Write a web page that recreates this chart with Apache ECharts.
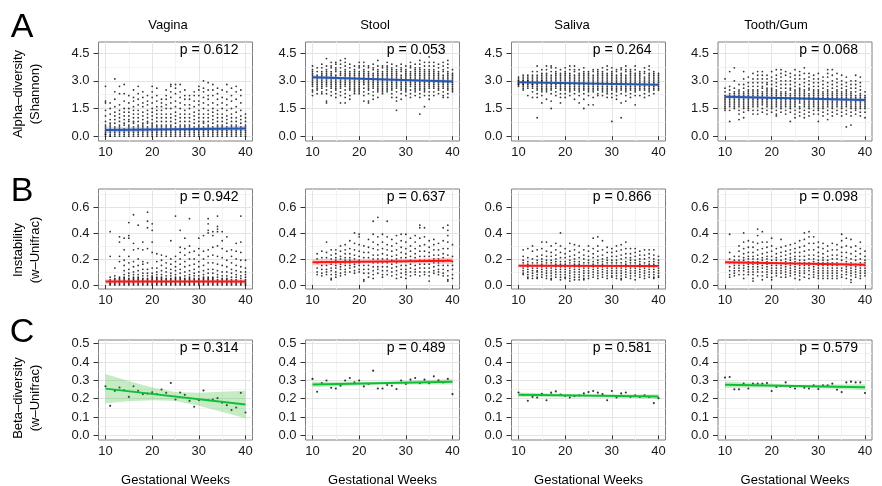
<!DOCTYPE html>
<html><head><meta charset="utf-8">
<script src="https://cdn.jsdelivr.net/npm/echarts@6/dist/echarts.min.js"></script>
<style>html,body{margin:0;padding:0;background:#fff}#c{width:882px;height:486px}</style>
</head><body><div id="c"></div>
<script>
// ---------------- DATA ----------------
const sites = ['Vagina', 'Stool', 'Saliva', 'Tooth/Gum'];
const rowLetters = ['A', 'B', 'C'];
const rowTitles = [['Alpha\u2013diversity', '(Shannon)'], ['Instability', '(w\u2013Unifrac)'], ['Beta\u2013diversity', '(w\u2013Unifrac)']];
const xLabel = 'Gestational Weeks';
const xTicks = [10, 20, 30, 40];
const xMinorTicks = [15, 25, 35];
const yTicksA = [0, 1.5, 3, 4.5];
const yMinorA = [0.75, 2.25, 3.75];
const yTicksB = [0, 0.2, 0.4, 0.6];
const yMinorB = [0.1, 0.3, 0.5, 0.7];
const yTicksC = [0, 0.1, 0.2, 0.3, 0.4, 0.5];
const yMinorC = [0.05, 0.15, 0.25, 0.35, 0.45];
const weeksA = [10,11,12,13,14,15,16,17,18,19,20,21,22,23,24,25,26,27,28,29,30,31,32,33,34,35,36,37,38,39,40];
const weeksB = [11,12,13,14,15,16,17,18,19,20,21,22,23,24,25,26,27,28,29,30,31,32,33,34,35,36,37,38,39,40];
const pValues = [['0.612','0.053','0.264','0.068'], ['0.942','0.637','0.866','0.098'], ['0.314','0.489','0.581','0.579']];

// Row A: Shannon diversity, values in tenths, one string per week (10..40)
const shannonVagina = [
"27 19 18 14 11 8 6 5 4 3 2 1 1 0","18 15 12 9 7 6 5 4 3 2 1 0 0","31 24 20 16 13 11 9 7 5 4 3 2 1 0",
"27 23 17 14 12 10 8 6 5 4 3 2 1 0","28 23 19 15 13 11 9 7 6 4 3 2 1 0","22 18 15 13 11 9 8 6 5 4 3 2 1 0",
"25 21 19 16 14 12 10 8 7 5 4 3 2 1 0","27 23 20 17 14 12 10 8 6 5 4 3 2 1 0","24 21 18 16 13 11 9 7 6 5 4 3 2 1 0",
"22 19 17 14 12 10 8 7 5 4 3 2 1 0","27 24 21 18 15 13 11 9 7 6 5 4 3 2 1 0","26 22 19 16 14 12 10 8 6 5 4 3 2 1 0",
"20 18 16 14 12 10 8 6 5 4 3 2 1 0","25 22 20 17 15 12 10 8 6 5 4 3 2 1 0","28 27 24 21 18 15 12 10 8 6 5 4 3 2 1 0",
"28 26 23 19 16 13 11 9 7 5 4 3 2 1 0","28 24 21 18 15 12 10 8 6 5 4 3 2 1 0","25 22 20 17 14 12 10 8 6 5 4 3 2 1 0",
"22 20 17 15 12 10 8 6 5 4 3 2 1 0","24 22 19 16 13 11 9 7 5 4 3 2 1 0","27 25 22 19 17 14 12 10 8 6 5 4 3 2 1 0",
"30 26 24 21 18 15 12 10 8 7 5 4 3 2 1 0","29 25 22 20 17 14 12 10 8 6 5 4 3 2 1 0","28 25 22 18 15 13 11 9 7 5 4 3 2 1 0",
"26 23 20 17 14 12 10 8 6 5 4 3 2 1 0","25 21 18 15 12 10 8 6 5 4 3 2 1 0","28 24 20 17 14 11 9 7 5 4 3 2 1 0",
"26 22 19 15 12 10 8 6 5 4 3 2 1 0","27 24 20 16 13 10 8 6 5 4 3 2 1 0","25 22 18 14 11 9 7 5 4 3 2 1 0",
"12 10 8 6 5 4 3 2 1 0"];
const shannonStool = [
"38 36 35 34 33 32 31 30 29 28 27 25 24 22","37 35 33 32 31 30 29 28 27 26 25 23","39 37 35 34 33 32 31 30 29 28 27 26 24 23",
"42 38 36 35 34 33 32 31 30 29 28 27 25 23 19 18","40 38 37 35 34 33 32 31 30 29 28 27 26 24 22","40 39 37 36 35 33 32 31 30 29 28 27 26 25 23 21",
"41 39 37 35 34 33 31 30 29 28 27 26 24 22 18","42 40 38 36 35 34 33 32 31 30 29 28 27 25 23 21 18","39 37 35 34 33 32 31 30 29 28 27 26 25 22 20",
"38 36 35 34 33 32 31 30 29 28 27 26 25 24 23","40 38 37 35 34 33 32 31 30 29 28 27 26 25 24 23","40 38 36 35 34 33 32 31 30 29 28 26 24 22 19",
"38 37 35 34 33 32 31 30 29 28 27 26 25 23 19 18","39 37 36 34 33 32 31 30 29 28 27 26 24 22 20","41 38 36 35 34 33 32 31 30 29 28 27 26 25 24 21",
"38 37 35 34 33 32 31 30 29 28 27 26 25 24 23","40 38 37 36 35 34 33 32 31 30 29 28 27 26 25 24","39 37 36 35 34 33 32 31 30 29 28 27 26 25 23 21",
"38 36 35 34 33 32 31 30 29 28 27 26 24 21 19 14","39 37 36 35 33 32 31 30 29 28 27 26 25 23 20","38 36 35 34 33 32 31 30 29 28 27 26 25 24 22",
"40 38 37 35 34 33 32 31 30 29 28 27 25 23 21","39 37 36 35 34 33 32 31 30 29 28 27 26 25 24 22","41 39 37 36 35 34 33 32 31 30 29 28 27 26 25 23 21 12",
"40 38 36 35 34 33 32 31 30 29 28 27 26 25 24 22 16","43 40 38 36 35 34 33 32 31 30 29 28 27 26 24 22 20","40 38 36 35 34 33 32 31 30 29 28 27 26 24 22",
"39 37 35 34 33 32 31 30 29 28 27 26 25 23","40 38 36 35 33 32 31 30 29 28 27 26 24 22 21","41 39 37 35 34 33 32 31 30 29 28 27 26 25 23 21",
"36 34 33 32 31 30 29 28 27 26 25 24"];
const shannonSaliva = [
"32 31 30 30 29 29 28 28 27","33 32 31 30 30 29 29 28 28 27 26 25","33 32 31 30 30 29 29 28 27 26 22",
"35 33 32 31 30 29 29 28 28 27 26 24 21","38 35 33 32 31 30 29 29 28 27 26 25 23 21 10","36 34 33 32 31 30 30 29 28 27 26 25 24 22 18",
"38 36 34 33 32 31 30 29 28 27 26 25 24 20","38 37 35 33 32 31 30 29 28 27 26 25 23 19 15","37 35 34 33 32 31 30 29 28 27 26 24 22",
"36 34 33 32 31 30 29 28 27 26 25 23 21 18","37 35 34 33 32 31 30 29 28 27 26 25 23 21","38 36 34 33 32 31 30 29 28 27 26 25 24 22",
"38 36 35 33 32 31 30 29 28 27 26 25 23 20","36 34 33 32 31 30 29 28 27 26 25 24 22 18","37 35 34 33 32 31 30 29 28 27 26 25 23 20 15",
"35 34 33 32 31 30 29 28 27 26 25 24 22 17","36 35 33 32 31 30 29 28 27 26 25 24 21 17","36 35 34 33 32 31 30 29 28 27 26 25 23 22",
"37 35 34 33 32 31 30 29 28 27 26 25 24 22","38 36 34 33 32 31 30 29 28 27 26 25 24 23 21","37 35 34 33 32 31 30 29 28 27 26 25 23 21 8",
"36 35 33 32 31 30 29 28 27 26 25 24 22 20","37 36 34 33 32 31 30 29 28 27 26 25 23 18 10","38 36 35 33 32 31 30 29 28 27 26 25 24 22 19",
"36 35 34 33 32 31 30 29 28 27 26 25 23 21","38 36 34 33 32 31 30 29 28 27 26 25 24 22 17","35 34 33 32 31 30 29 28 27 26 25 22",
"37 35 34 32 31 30 29 28 27 26 25 23 21","38 36 34 33 32 31 30 29 28 27 26 25 24 22","35 34 33 32 31 30 29 28 27 26 25 23",
"34 33 32 31 30 29 28 27 26 25"];
const shannonTooth = [
"31 26 24 22 21 20 19 18 17 16 15 14","35 27 25 23 22 21 20 19 18 17 16 14 8","37 30 26 24 23 22 21 20 19 18 17 16 15",
"28 25 24 23 22 21 20 19 18 17 16 14 12 9","35 31 28 26 24 23 22 21 20 19 18 17 16 15 13 10","32 29 27 25 24 23 22 21 20 19 18 17 16 15 14",
"34 31 29 27 25 24 23 22 21 20 19 18 17 16 14 12","35 33 31 29 27 25 24 23 22 21 20 19 18 17 16 14 12","35 33 31 29 27 26 24 23 22 21 20 19 18 17 15 13",
"33 31 29 28 26 25 24 23 22 21 20 19 18 17 16 14 12","35 32 30 28 26 25 24 23 22 21 20 19 18 17 16 15 13","36 33 31 29 27 25 24 23 22 21 20 19 18 17 16 14 12 11",
"36 34 32 30 28 26 24 23 22 21 20 19 18 17 16 15 13","35 33 30 28 26 24 23 22 21 20 19 18 17 16 14 12","34 32 30 28 26 25 23 22 21 20 19 18 17 16 15 13 8",
"36 33 31 29 27 25 24 23 22 21 20 19 18 17 16 14 12 10","35 33 31 28 26 25 24 23 22 21 20 19 18 16 15 13 11","37 34 31 29 27 25 24 23 22 21 20 19 18 17 16 14 12 10",
"34 32 30 28 26 25 23 22 21 20 19 18 17 16 15 13 11","33 31 29 27 25 24 23 22 21 20 19 18 17 16 14 12","34 31 29 27 25 24 23 22 21 20 19 18 17 16 15 14 12 8",
"32 30 28 26 24 23 22 21 20 19 18 17 16 15 13 11","36 34 32 29 27 25 24 23 22 21 20 19 18 17 16 14 12 9","36 33 30 28 26 24 23 22 21 20 19 18 17 16 15 13 11",
"34 31 29 27 25 24 23 22 21 20 19 18 17 16 14 12","33 30 28 26 24 23 22 21 20 19 18 17 16 15 13 11","32 29 27 25 24 23 22 21 20 19 18 17 16 14 12 5",
"30 28 26 24 23 22 21 20 19 18 17 16 15 13 11 6","33 30 28 26 24 22 21 20 19 18 17 16 15 14 12","32 29 27 25 23 22 21 20 19 18 17 16 15 13 11",
"24 22 21 20 19 18 17 16 15 13 10"];

// Row B: instability (w-Unifrac), values in hundredths, one string per week (11..40)
const instabVagina = [
"41 22 6 4 3 2 1 1 0","13 7 5 4 3 2 1 0","37 33 22 18 6 5 4 3 2 1 0","36 27 19 15 11 8 6 5 4 3 2 1 0",
"48 38 36 22 17 12 9 7 5 4 3 2 1 0","54 32 27 18 14 10 8 6 5 4 3 2 1 0","46 28 20 15 11 8 6 5 4 3 2 1 0",
"33 27 18 16 12 9 7 5 4 3 2 1 0","56 49 44 28 17 12 9 7 5 4 3 2 1 0","47 42 33 25 13 9 7 6 5 4 3 2 1 0",
"24 18 13 10 8 6 5 4 3 2 1 0","23 19 15 11 8 6 5 4 3 2 1 0","22 17 13 10 7 5 4 3 2 1 0","34 20 16 12 9 7 5 4 3 2 1 0",
"53 22 18 14 11 8 6 5 4 3 2 1 0","42 29 25 20 16 12 9 6 5 4 3 2 1 0","36 28 23 18 14 10 7 5 4 3 2 1 0",
"51 30 25 20 15 11 8 6 5 4 3 2 1 0","26 20 16 12 9 7 5 4 3 2 1 0","36 28 23 18 14 10 7 5 4 3 2 1 0",
"38 26 20 15 11 8 6 5 4 3 2 1 0","51 47 42 40 27 22 17 12 9 6 5 4 3 2 1 0","41 38 29 23 17 12 9 6 5 4 3 2 1 0",
"53 45 43 41 30 22 16 11 8 6 4 3 2 1 0","41 34 28 21 15 10 7 5 4 3 2 1 0","37 26 19 14 10 7 5 4 3 2 1 0",
"27 22 17 12 9 6 4 3 2 1 0","32 26 20 15 11 8 6 4 3 2 1 0","53 33 25 19 14 10 7 5 3 2 1 0","19 13 10 8 6 4 3 2 1 0"];
const instabStool = [
"24 20 17 13 10 8","26 21 18 15 12 9 7","33 25 21 18 15 12 10 8","27 23 20 18 16 13 11 8 5 4",
"27 24 21 19 17 15 13 10 8 6","30 26 22 20 18 16 14 12 9 7","31 27 24 21 19 17 15 12 10 8","34 28 24 21 19 17 15 13 10",
"40 32 27 23 20 18 16 14 11 9","39 37 31 26 22 19 17 15 12 10","30 25 21 18 15 12 9 4 3","35 29 25 21 18 15 12 9 6",
"49 39 33 28 23 20 17 14 11 8 5","52 37 31 27 23 20 17 14 12 9","39 33 28 24 20 17 14 11 8 6","49 37 31 27 23 20 17 14 11 8",
"35 30 26 22 19 16 13 10 7","38 32 27 23 20 17 14 11 8 5","39 34 29 25 21 18 15 12 9 6","39 33 28 24 21 18 15 12 10 8 5",
"36 30 26 22 19 16 13 10 7","38 33 28 24 21 18 15 12 10 8","46 44 36 30 26 22 19 16 13 10 7","44 37 31 26 22 19 16 13 10 8",
"34 29 25 22 19 16 13 10 7 3","35 31 27 23 20 17 14 11 9","32 27 23 20 17 15 12 10 8","44 34 28 24 21 18 15 12 9 7",
"46 42 38 33 28 23 19 15 11 7 4 3","31 22 18 15 12 8 5"];
const instabSaliva = [
"27 22 19 17 15 13 11 9 8","28 21 18 16 14 12 10 8 6 5","30 26 20 17 15 13 11 9 7 5","27 22 19 17 15 13 11 10 8 6 5",
"33 28 23 20 18 16 14 12 10 8 6","33 26 22 19 17 15 13 11 9 7 5","30 25 22 19 17 15 13 11 9 7 5 4","32 27 23 20 18 16 14 12 10 8 6",
"40 30 25 21 18 16 14 12 10 8 6 4","28 24 21 18 16 14 12 10 8 6 5","32 26 22 19 17 15 13 11 9 7 5 3","31 27 23 20 18 16 14 12 10 8 6 4",
"30 25 21 18 16 14 12 10 8 6 4","27 23 20 17 15 13 11 9 7 5 4","30 26 22 19 17 15 13 11 9 7 5","36 28 24 21 18 16 14 12 10 8 6",
"37 30 26 22 19 17 15 13 11 9 7 5","34 27 23 20 18 16 14 12 10 8 6","29 25 21 19 17 15 13 11 9 7 5","28 25 22 19 17 15 13 11 9 7 6",
"30 26 22 19 17 15 13 11 9 7 5","31 27 23 20 17 15 13 11 9 7 5 4","33 28 24 21 18 16 14 12 10 8 6","28 24 21 19 17 15 13 11 9 7 5",
"28 25 22 19 17 15 13 11 9 7 4","26 23 20 18 16 14 12 10 8 6","27 23 20 17 15 13 11 9 7 5","27 24 21 18 16 14 12 10 8 6",
"27 23 20 18 16 14 12 10 8 6 5","22 19 17 15 13 11 9 7 6"];
const instabTooth = [
"39 25 20 17 14 11 8 6","22 19 17 15 13 11 9 7","30 26 22 19 17 15 13 11 8","40 33 28 24 21 19 17 15 13 11 8 5",
"34 29 25 22 20 18 16 14 12 10 8","33 29 25 22 20 18 16 14 12 10 8 5 3","43 38 32 27 23 20 18 16 14 12 10 7","41 33 28 24 21 19 17 15 13 10 7 4",
"33 29 25 22 20 18 16 14 12 10 8 6","36 30 26 22 19 17 15 13 11 9 6 4","28 24 21 19 17 15 13 11 9 7","35 29 25 22 19 17 15 13 11 9 6",
"30 26 23 20 18 16 14 12 10 8 6","31 27 24 21 19 17 15 13 11 9 7","32 28 25 22 20 18 16 14 12 10 8 5","34 29 25 22 19 17 15 13 11 9 7 4",
"40 35 30 26 22 19 17 15 13 11 9 6","41 37 32 27 23 20 17 15 13 11 8 5","37 32 27 23 20 18 16 14 12 10 8 6","33 29 25 22 19 17 15 13 11 9 7 5",
"32 28 24 21 19 17 15 13 11 9 7 5","30 26 22 19 17 15 13 11 9 7 5","32 27 23 20 17 15 13 11 9 7 5","31 27 23 20 17 15 13 11 9 7 5",
"39 34 29 25 22 19 16 13 11 8 6","36 30 25 21 18 16 14 12 10 8 5","35 29 24 20 17 15 13 11 9 7 4 2","30 26 22 19 16 14 12 10 8 6",
"33 28 24 20 17 15 13 11 9 7 5","26 22 19 17 15 13 11 9 7"];

// Row C: beta-diversity, one value per week (10..40)
const betaVagina = [0.268,0.161,0.243,0.261,0.246,0.210,0.268,0.243,0.225,0.228,0.235,0.225,0.250,0.232,0.286,0.196,0.234,0.221,0.188,0.156,0.192,0.245,0.192,0.196,0.203,0.178,0.165,0.138,0.152,0.232,0.125];
const betaStool = [0.308,0.238,0.286,0.299,0.260,0.256,0.271,0.299,0.313,0.289,0.299,0.267,0.280,0.353,0.256,0.256,0.275,0.271,0.253,0.299,0.280,0.304,0.313,0.284,0.304,0.284,0.322,0.300,0.289,0.308,0.225];
const betaSaliva = [0.234,0.220,0.189,0.210,0.207,0.227,0.192,0.233,0.240,0.223,0.215,0.207,0.214,0.218,0.229,0.236,0.242,0.233,0.225,0.192,0.242,0.207,0.229,0.234,0.210,0.218,0.209,0.218,0.210,0.176,0.203];
const betaTooth = [0.315,0.318,0.251,0.251,0.282,0.256,0.282,0.282,0.282,0.285,0.242,0.264,0.269,0.289,0.264,0.256,0.269,0.260,0.256,0.273,0.253,0.273,0.273,0.282,0.249,0.236,0.289,0.293,0.289,0.289,0.231];

// Fitted lines (value at week 10 and week 40)
const fitStart = [[0.33, 3.19, 2.92, 2.14], [0.026, 0.174, 0.148, 0.174], [0.255, 0.278, 0.222, 0.276]];
const fitEnd   = [[0.42, 2.96, 2.79, 1.96], [0.026, 0.187, 0.145, 0.156], [0.168, 0.292, 0.212, 0.263]];
// Confidence bands (x positions, lower and upper edges)
const bandX3 = [10, 25, 40];
const bandX7 = [10, 15, 20, 25, 30, 35, 40];
const bandLow = [
  [[0.18,0.295,0.29],[3.09,3.025,2.86],[2.86,2.825,2.73],[2.04,2.0,1.86]],
  [[0.008,0.018,0.008],[0.15,0.168,0.162],[0.137,0.141,0.135],[0.158,0.158,0.14]],
  [[0.175,0.186,0.191,0.187,0.162,0.128,0.093],[0.263,0.278,0.277],[0.21,0.211,0.2],[0.258,0.263,0.247]]
];
const bandHigh = [
  [[0.48,0.455,0.55],[3.29,3.125,3.06],[2.98,2.885,2.85],[2.24,2.10,2.06]],
  [[0.044,0.034,0.044],[0.198,0.193,0.212],[0.159,0.152,0.155],[0.19,0.172,0.172]],
  [[0.335,0.296,0.261,0.237,0.232,0.238,0.243],[0.293,0.292,0.307],[0.234,0.223,0.224],[0.294,0.276,0.279]]
];

// ---------------- LAYOUT / STYLE ----------------
const FONT = 'Liberation Sans, Arial, sans-serif';
const colLeft = [98.5, 305.5, 511.5, 718];
const panelW = 154;
const rowTop = [42, 189, 340];
const rowH = [99, 100, 100];
const yMin = [-0.26, -0.031, -0.025];
const yMax = [5.1, 0.738, 0.52];
const yMajor = [yTicksA, yTicksB, yTicksC];
const yMinor = [yMinorA, yMinorB, yMinorC];
const lineColor = ['#2456b2', '#ff1414', '#0dbf36'];
const bandColor = ['rgba(90,115,210,0.32)', 'rgba(255,90,90,0.32)', 'rgba(50,185,50,0.28)'];
const dotSize = [1.8, 1.8, 2.1];
const titleX = [168, 375, 572, 776];

function expandCols(cols, weeks, scale) {
  const out = [];
  cols.forEach((s, i) => s.split(' ').forEach(v => out.push([weeks[i], Number(v) / scale])));
  return out;
}
function pairs(weeks, vals) { return vals.map((v, i) => [weeks[i], v]); }

const scatterData = [
  [expandCols(shannonVagina, weeksA, 10), expandCols(shannonStool, weeksA, 10), expandCols(shannonSaliva, weeksA, 10), expandCols(shannonTooth, weeksA, 10)],
  [expandCols(instabVagina, weeksB, 100), expandCols(instabStool, weeksB, 100), expandCols(instabSaliva, weeksB, 100), expandCols(instabTooth, weeksB, 100)],
  [pairs(weeksA, betaVagina), pairs(weeksA, betaStool), pairs(weeksA, betaSaliva), pairs(weeksA, betaTooth)]
];

const grid = [], xAxis = [], yAxis = [], series = [], graphic = [];
const axisLabelStyle = { fontFamily: FONT, fontSize: 13, color: '#1a1a1a' };

for (let r = 0; r < 3; r++) {
  for (let c = 0; c < 4; c++) {
    const g = r * 4 + c;
    grid.push({ left: colLeft[c], top: rowTop[r], width: panelW, height: rowH[r], show: true,
      borderColor: '#7f7f7f', borderWidth: 1, backgroundColor: '#fff', containLabel: false });
    // major x axis
    xAxis.push({ gridIndex: g, type: 'value', min: 8.5, max: 41.5, z: 1,
      axisLine: { show: false },
      axisTick: { show: true, length: 4, lineStyle: { color: '#333', width: 1 }, customValues: xTicks },
      axisLabel: Object.assign({ margin: 5, customValues: xTicks }, axisLabelStyle),
      splitLine: { show: true, lineStyle: { color: '#e4e4e4', width: 1 } } });
    // minor x axis (grid lines only)
    xAxis.push({ gridIndex: g, type: 'value', min: 8.5, max: 41.5, z: 0,
      axisLine: { show: false }, axisTick: { show: false, customValues: xMinorTicks },
      axisLabel: { show: false, customValues: xMinorTicks },
      splitLine: { show: true, lineStyle: { color: '#f3f3f3', width: 1 } } });
    yAxis.push({ gridIndex: g, type: 'value', min: yMin[r], max: yMax[r], z: 1,
      axisLine: { show: false },
      axisTick: { show: true, length: 5, lineStyle: { color: '#333', width: 1 }, customValues: yMajor[r] },
      axisLabel: Object.assign({ margin: 9, customValues: yMajor[r], formatter: v => Number(v).toFixed(1) }, axisLabelStyle),
      splitLine: { show: true, lineStyle: { color: '#e4e4e4', width: 1 } } });
    yAxis.push({ gridIndex: g, type: 'value', min: yMin[r], max: yMax[r], z: 0,
      axisLine: { show: false }, axisTick: { show: false, customValues: yMinor[r] },
      axisLabel: { show: false, customValues: yMinor[r] },
      splitLine: { show: true, lineStyle: { color: '#f3f3f3', width: 1 } } });

    const xi = 2 * g, yi = 2 * g;
    series.push({ type: 'scatter', xAxisIndex: xi, yAxisIndex: yi, data: scatterData[r][c],
      symbol: 'circle', symbolSize: dotSize[r], itemStyle: { color: '#000' }, z: 5, silent: true });

    const bx = (r === 2 && c === 0) ? bandX7 : bandX3;
    const lo = bandLow[r][c], hi = bandHigh[r][c];
    series.push({ type: 'custom', xAxisIndex: xi, yAxisIndex: yi, z: 6, silent: true, clip: true,
      data: [[bx[0], lo[0]]],
      renderItem: (params, api) => {
        const pts = [];
        for (let i = 0; i < bx.length; i++) pts.push(api.coord([bx[i], hi[i]]));
        for (let i = bx.length - 1; i >= 0; i--) pts.push(api.coord([bx[i], lo[i]]));
        return { type: 'polygon', shape: { points: pts }, style: { fill: bandColor[r], stroke: null } };
      } });

    series.push({ type: 'line', xAxisIndex: xi, yAxisIndex: yi, z: 7, silent: true,
      data: [[10, fitStart[r][c]], [40, fitEnd[r][c]]], showSymbol: false, symbol: 'none',
      lineStyle: { color: lineColor[r], width: 2 } });

    // p-value text
    graphic.push({ type: 'text', x: colLeft[c] + panelW - 14, y: rowTop[r] + 8.5, z: 10,
      style: { text: 'p = ' + pValues[r][c], font: '14px ' + FONT, fill: '#000', align: 'right', verticalAlign: 'middle' } });
  }
}

// column titles
sites.forEach((s, c) => graphic.push({ type: 'text', x: titleX[c], y: 25,
  style: { text: s, font: '13px ' + FONT, fill: '#000', align: 'center', verticalAlign: 'middle' } }));
// x axis titles
for (let c = 0; c < 4; c++) graphic.push({ type: 'text', x: colLeft[c] + panelW / 2, y: 480,
  style: { text: xLabel, font: '13px ' + FONT, fill: '#000', align: 'center', verticalAlign: 'middle' } });
// row letters
const letterY = [27.5, 191.5, 332.5];
rowLetters.forEach((L, r) => graphic.push({ type: 'text', x: 22, y: letterY[r],
  style: { text: L, font: '34px ' + FONT, fill: '#000', align: 'center', verticalAlign: 'middle' } }));
// y axis titles
const yTitleY = [94, 250, 398];
rowTitles.forEach((t, r) => {
  graphic.push({ type: 'text', x: 18.5, y: yTitleY[r], rotation: Math.PI / 2,
    style: { text: t[0], font: '13px ' + FONT, fill: '#000', align: 'center', verticalAlign: 'middle' } });
  graphic.push({ type: 'text', x: 35, y: yTitleY[r], rotation: Math.PI / 2,
    style: { text: t[1], font: '13px ' + FONT, fill: '#000', align: 'center', verticalAlign: 'middle' } });
});

const chart = echarts.init(document.getElementById('c'), null, { renderer: 'canvas' });
chart.setOption({ animation: false, backgroundColor: '#fff', grid, xAxis, yAxis, series, graphic });
</script>
</body></html>
